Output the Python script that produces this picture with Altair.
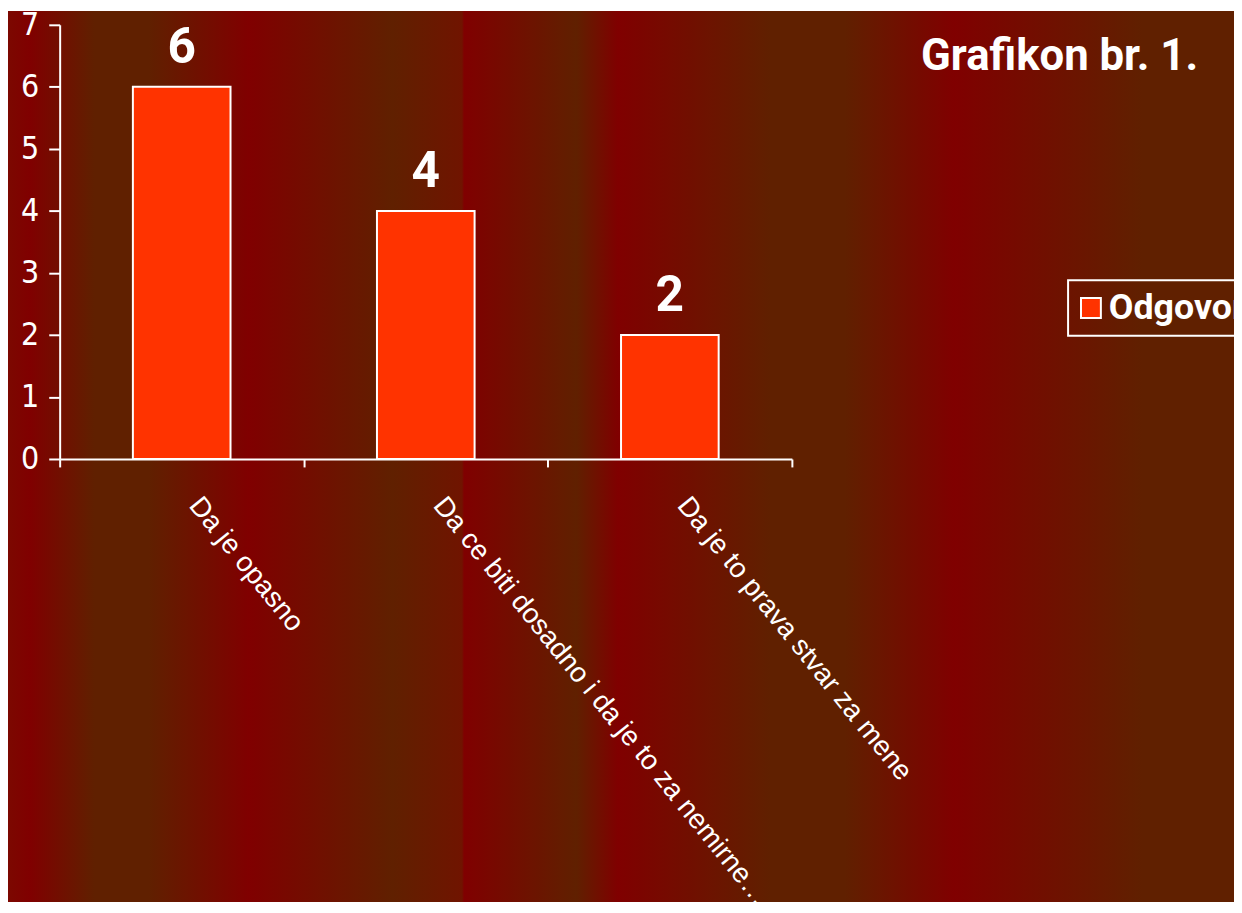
import altair as alt
import pandas as pd

# ---- data ----
categories = [
    "Da je opasno",
    "Da ce biti dosadno i da je to za nemirne…",
    "Da je to prava stvar za mene",
]
values = [6, 4, 2]
series = ["Odgovor", "Odgovor", "Odgovor"]
title_text = ["Grafikon br. 1."]
y_ticks = [0, 1, 2, 3, 4, 5, 6, 7]

# background stripe profile (page x -> colour)
bg_px = [8, 30, 95, 150, 250, 395, 465, 467, 580, 622, 775, 850, 960, 1150, 1242]
bg_col = ["#7c0800", "#800000", "#602000", "#602000", "#800000", "#602000",
          "#701400", "#800000", "#602000", "#800000", "#602000", "#602000",
          "#800000", "#602000", "#602000"]

# ---- layout ----
W, H = 737, 437
PAD_L, PAD_T = 52, 14
TOT_W, TOT_H = 1234, 897

df = pd.DataFrame({"cat": categories, "val": values, "series": series})

stops = [alt.GradientStop(color=c, offset=(p - 8) / (TOT_W)) for p, c in zip(bg_px, bg_col)]
bg = alt.Chart(pd.DataFrame({"k": [0]})).mark_rect(
    fill=alt.Gradient(gradient="linear", stops=stops, x1=0, x2=1, y1=0, y2=0)
).encode(
    x=alt.value(-PAD_L), x2=alt.value(TOT_W - PAD_L),
    y=alt.value(-PAD_T), y2=alt.value(TOT_H - PAD_T),
)

x_enc = alt.X(
    "cat:N", sort=categories,
    scale=alt.Scale(paddingInner=0, paddingOuter=0, round=False),
    axis=alt.Axis(
        title=None, labelAngle=51, labelAlign="left", labelBaseline="top",
        labelOffset=23, labelPadding=25, tickSize=8, tickBand="extent",
        labelFont="Liberation Sans, Arial, sans-serif", labelFontSize=28,
        labelLimit=2000, zindex=1,
    ),
)
y_enc = alt.Y(
    "val:Q", scale=alt.Scale(domain=[0, 7]),
    axis=alt.Axis(
        title=None, values=y_ticks, format="d", tickSize=11, labelPadding=10,
        labelFont="DejaVu Sans Condensed, Liberation Sans Narrow, sans-serif",
        labelFontSize=32, zindex=1,
    ),
)

bars = alt.Chart(df).mark_bar(
    stroke="white", strokeWidth=2, width=alt.RelativeBandSize(0.4)
).encode(
    x=x_enc,
    y=y_enc,
    color=alt.Color(
        "series:N", scale=alt.Scale(range=["#ff3300"]),
        legend=alt.Legend(
            title=None, orient="none", legendX=1015, legendY=257,
            strokeColor="white", padding=10, symbolType="square",
            symbolSize=400, symbolStrokeColor="white", symbolStrokeWidth=2,
            symbolOffset=-5,
            labelFont="Roboto", labelFontWeight="bold", labelFontSize=36,
            labelColor="white", labelOffset=0, zindex=1,
        ),
    ),
)

labels = alt.Chart(df).mark_text(
    font="Roboto", fontWeight="bold", fontSize=50, color="white",
    dy=-24, baseline="alphabetic",
).encode(
    x=alt.X("cat:N", sort=categories),
    y=alt.Y("val:Q"),
    text=alt.Text("val:Q"),
)

title = alt.Chart(pd.DataFrame({"t": title_text})).mark_text(
    align="left", baseline="alphabetic", font="Roboto", fontWeight="bold",
    fontSize=44, color="white",
).encode(x=alt.value(867), y=alt.value(45), text="t:N")

chart = alt.layer(bg, bars, labels, title).properties(
    width=W, height=H,
    autosize=alt.AutoSizeParams(type="none"),
    padding={"left": PAD_L, "top": PAD_T,
             "right": TOT_W - PAD_L - W, "bottom": TOT_H - PAD_T - H},
).configure_view(strokeWidth=0).configure_axis(
    grid=False, domainColor="white", domainWidth=2,
    tickColor="white", tickWidth=2, labelColor="white",
).configure_legend(strokeWidth=2)

chart.save("out.html", embed_options={"renderer": "svg", "actions": False})
